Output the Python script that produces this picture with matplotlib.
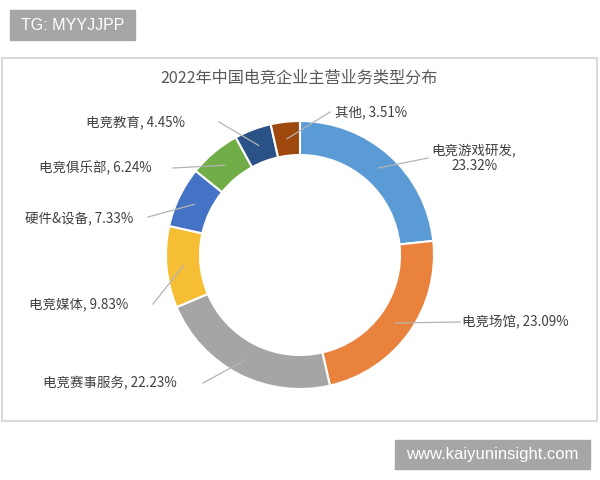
import numpy as np
import matplotlib
matplotlib.use("Agg")
import matplotlib.pyplot as plt
from matplotlib.patches import Rectangle

plt.rcParams['font.family'] = ['Noto Sans CJK SC', 'DejaVu Sans']

# dados
categorias = ["电竞游戏研发", "电竞场馆", "电竞赛事服务", "电竞媒体",
              "硬件&设备", "电竞俱乐部", "电竞教育", "其他"]
valores = [23.32, 23.09, 22.23, 9.83, 7.33, 6.24, 4.45, 3.51]
cores = ["#5B9BD5", "#E9823D", "#A5A5A5", "#F6BE34",
         "#4472C4", "#70AD47", "#2B5286", "#9E480E"]
titulo = "2022年中国电竞企业主营业务类型分布"

# posicao das etiquetas em pixels (x, y, ha) e fim da linha guia
pos_texto = [(474, 158, "center"), (462, 322, "left"), (177, 383, "right"),
             (128, 304, "right"), (133, 218, "right"), (152, 168, "right"),
             (185, 123, "right"), (335, 112, "left")]
pos_guia = [(428, 158), (460, 322), (203, 383), (153, 304),
            (148, 217), (173, 168), (219, 122), (330, 112)]

W, H = 600, 480
fig = plt.figure(figsize=(6, 4.8), dpi=100)
ax = fig.add_axes([0, 0, 1, 1])

def py(y):
    return H - y

cx, cy, R = 300, py(255), 134
wedges, _ = ax.pie(valores, colors=cores, startangle=90, counterclock=False,
                   center=(cx, cy), radius=R, frame=True,
                   wedgeprops=dict(width=34, edgecolor="white", linewidth=1.5))
ax.set_xlim(0, W)
ax.set_ylim(0, H)
ax.set_aspect("equal")
ax.axis("off")

# moldura do grafico
ax.add_patch(Rectangle((1.5, py(421)), 595.5, 363, fill=False,
                       edgecolor="#D9D9D9", linewidth=1.4))

ax.text(299, py(78), titulo, ha="center", va="center", fontsize=11.6,
        color="#595959")

for w, cat, val, (tx, ty, ha), (gx, gy) in zip(wedges, categorias, valores,
                                              pos_texto, pos_guia):
    ang = np.deg2rad((w.theta1 + w.theta2) / 2)
    r = R - 17
    x0, y0 = cx + r * np.cos(ang), cy + r * np.sin(ang)
    ax.plot([x0, gx], [y0, py(gy)], color="#B4B4B4", linewidth=0.9)
    if ha == "center":
        txt = f"{cat},\n{val:.2f}%"
    else:
        txt = f"{cat}, {val:.2f}%"
    ax.text(tx, py(ty), txt, ha=ha, va="center", fontsize=9.7,
            color="#404040", linespacing=1.15)

# marcas de agua
ax.add_patch(Rectangle((10, py(40)), 125, 30, color="#A6A6A6"))
ax.text(72.5, py(25), "TG: MYYJJPP", ha="center", va="center",
        fontsize=11.5, color="white", family="Liberation Sans")
ax.add_patch(Rectangle((395, py(469)), 195, 29, color="#A6A6A6"))
ax.text(492.5, py(454.5), "www.kaiyuninsight.com", ha="center", va="center",
        fontsize=12, color="white", family="Liberation Sans")

fig.savefig("out.png", dpi=100)
